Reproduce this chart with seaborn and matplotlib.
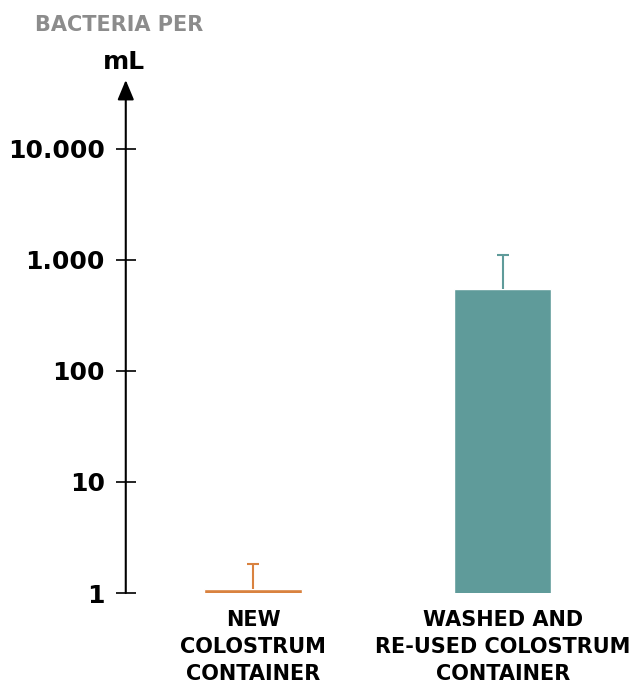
import matplotlib
matplotlib.use("Agg")
import matplotlib.pyplot as plt
import seaborn as sns
import pandas as pd

categories = ["NEW\nCOLOSTRUM\nCONTAINER", "WASHED AND\nRE-USED COLOSTRUM\nCONTAINER"]
bacteria = [1.09, 550]
upper = [1.83, 1110]
colors = ["#D9823F", "#5F9B9A"]
ytick_values = [1, 10, 100, 1000, 10000]
ytick_labels = ["1", "10", "100", "1.000", "10.000"]

sns.set_style("white")
plt.rcParams["font.family"] = ["DejaVu Sans"]

df = pd.DataFrame({"cat": categories, "val": bacteria})

fig = plt.figure(figsize=(6.32, 6.84), dpi=100)
ax = fig.add_axes([0.199, 0.133, 0.790, 0.750])
ax.set_yscale("log")

sns.barplot(data=df, x="cat", y="val", hue="cat", palette=colors,
            width=0.39, legend=False, ax=ax, saturation=1)

# error bars (upper only)
cap = 0.024
for i, (v, u) in enumerate(zip(bacteria, upper)):
    ax.vlines(i, v, u, color=colors[i], lw=1.5)
    ax.hlines(u, i - cap, i + cap, color=colors[i], lw=1.5)

ax.set_ylim(1, 10 ** 4.62)
ax.set_xlim(-0.51, 1.49)
ax.set_yticks(ytick_values)
ax.set_yticklabels(ytick_labels, fontsize=18, fontweight="bold", color="black")
ax.minorticks_off()
ax.tick_params(axis="y", direction="inout", length=14, width=1.2, pad=8,
               left=True, color="black")
ax.tick_params(axis="x", length=0, pad=12)
for lab in ax.get_xticklabels():
    lab.set_fontweight("bold")
    lab.set_fontsize(15)
    lab.set_color("black")
    lab.set_linespacing(1.45)
ax.set_xlabel("")
ax.set_ylabel("")
for s in ["top", "right", "bottom", "left"]:
    ax.spines[s].set_visible(False)

# vertical axis with arrow
ax.annotate("", xy=(0, 1.0), xytext=(0, 0), xycoords="axes fraction",
            arrowprops=dict(arrowstyle="-|>,head_length=1.2,head_width=0.5",
                            color="black", lw=1.5, shrinkA=0, shrinkB=0))

fig.text(0.055, 0.963, "BACTERIA PER", color="#8C8C8C", fontsize=15,
         fontweight="bold", va="center", ha="left")
fig.text(0.196, 0.909, "mL", color="black", fontsize=18,
         fontweight="bold", va="center", ha="center")

fig.savefig("out.png", dpi=100)
